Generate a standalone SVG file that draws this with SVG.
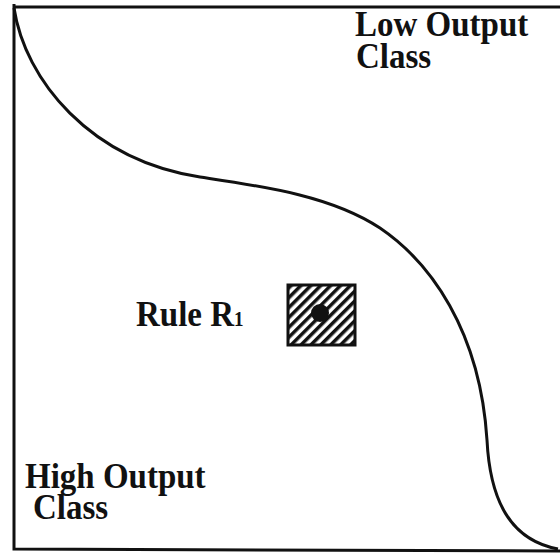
<svg xmlns="http://www.w3.org/2000/svg" width="560" height="555" viewBox="0 0 560 555">
<defs>
<style>
.t{font-family:"Liberation Serif","Times New Roman",serif;font-weight:bold;font-size:33px;fill:#111}
.ln{fill:none;stroke:#111;stroke-width:3}
</style>
<pattern id="hatch" patternUnits="userSpaceOnUse" width="7" height="7" patternTransform="rotate(45)">
<rect width="7" height="7" fill="#fff"/>
<rect width="3.5" height="7" fill="#111"/>
</pattern>
</defs>
<rect width="560" height="555" fill="#fff"/>
<g id="frame">
<path class="ln" d="M14,4 L14,549 L560,551"/>
<path class="ln" d="M13,7 L560,7"/>
</g>
<g id="connectors">
<path class="ln" d="M14,8 C25,80 90,160 200,177 C260,186 330,195 380,228 C430,262 480,330 487,440 C490,500 510,540 558,549"/>
</g>
<g id="rule">
<rect x="288" y="285" width="67" height="60" fill="url(#hatch)" stroke="#111" stroke-width="3"/>
<circle cx="320" cy="313" r="9" fill="#111"/>
</g>
<g id="low">
<text class="t" transform="translate(355,36) scale(1,1.08)">Low Output</text>
<text class="t" transform="translate(356,68) scale(1,1.08)">Class</text>
</g>
<g id="high">
<text class="t" transform="translate(25,488) scale(1,1.08)">High Output</text>
<text class="t" transform="translate(33,519) scale(1,1.08)">Class</text>
</g>
<g id="rulelabel">
<text class="t" transform="translate(136,326) scale(1,1.08)">Rule R<tspan font-size="19">1</tspan></text>
</g>
</svg>
